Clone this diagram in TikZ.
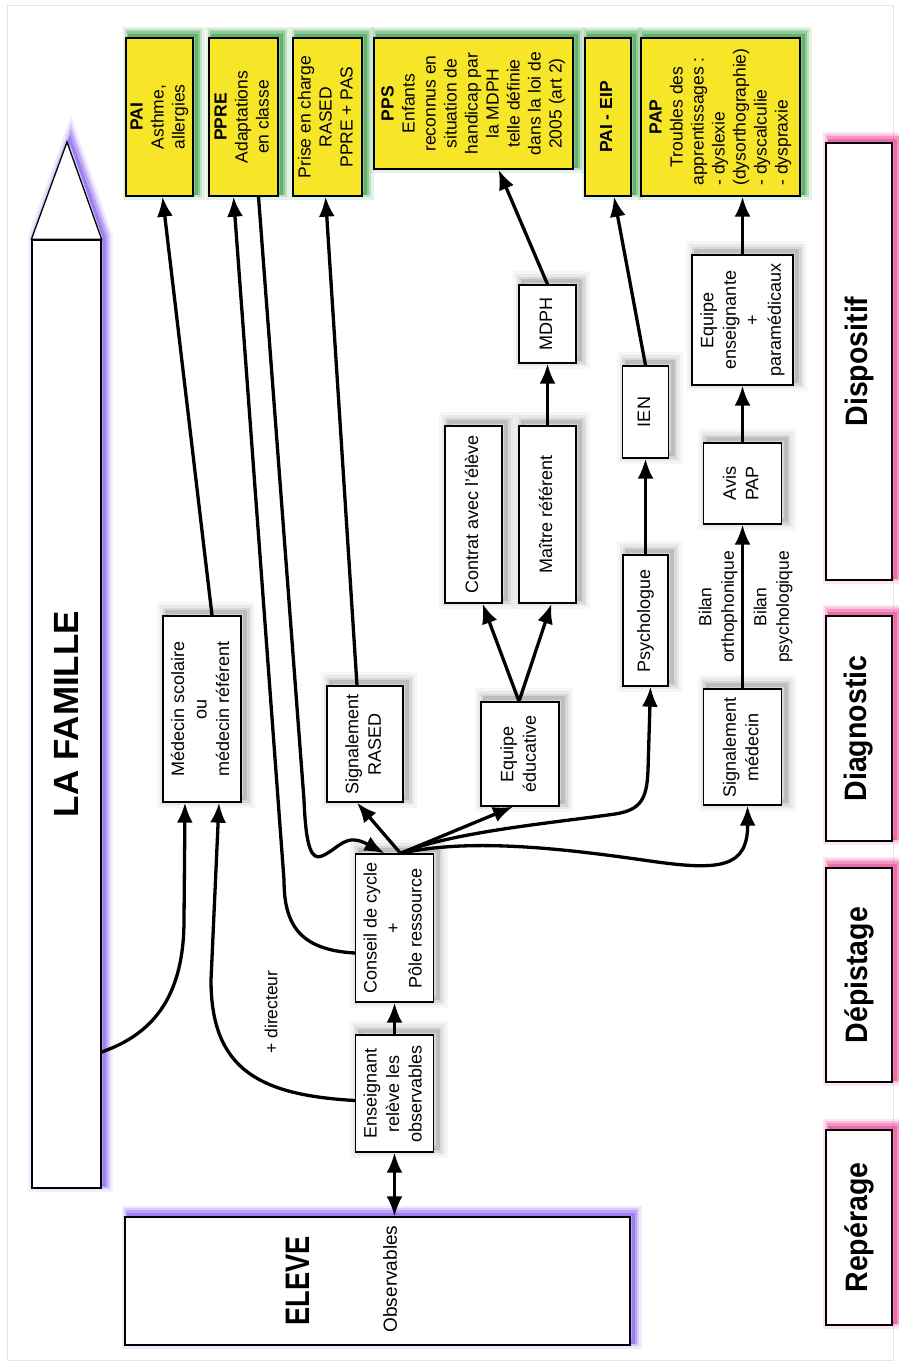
\documentclass[tikz,border=0pt]{standalone}
\usepackage{fontspec}
\setmainfont{Liberation Sans}
\newfontfamily\narrowfont[FakeStretch=0.8]{Liberation Sans}
\newfontfamily\stagefont[FakeStretch=0.92]{Liberation Sans}
\usepackage{graphicx}
\usetikzlibrary{arrows.meta}
\definecolor{dispyellow}{RGB}{247,229,40}
\definecolor{dispgreen}{RGB}{40,150,50}
\definecolor{famviolet}{RGB}{120,80,235}
\definecolor{stagepink}{RGB}{235,50,140}
\newcommand{\vtext}[1]{\rotatebox{90}{\begin{tabular}{@{}c@{}}#1\end{tabular}}}
\tikzset{
  shade/.style={
    preaction={draw=black, draw opacity=.035, line width=20pt, transform canvas={shift={(4pt,4pt)}}},
    preaction={draw=black, draw opacity=.05, line width=14pt, transform canvas={shift={(4pt,4pt)}}},
    preaction={draw=black, draw opacity=.08, line width=9pt, transform canvas={shift={(4pt,4pt)}}},
    preaction={draw=black, draw opacity=.12, line width=4pt, transform canvas={shift={(4pt,4pt)}}}},
  glow/.style={
    preaction={draw=#1, draw opacity=.12, line width=15pt, transform canvas={shift={(4pt,4pt)}}},
    preaction={draw=#1, draw opacity=.2, line width=10pt, transform canvas={shift={(4pt,4pt)}}},
    preaction={draw=#1, draw opacity=.3, line width=6pt, transform canvas={shift={(4pt,4pt)}}},
    preaction={draw=#1, draw opacity=.45, line width=3pt, transform canvas={shift={(3pt,3pt)}}}},
  plain/.style={draw=black, line width=1.3pt, fill=white, inner sep=0pt, font=\fontsize{18}{22.5}\selectfont},
  box/.style={plain, shade},
  disp/.style={plain, fill=dispyellow, glow=dispgreen, font=\fontsize{17.5}{21}\selectfont},
  stage/.style={plain, glow=stagepink, minimum width=66pt, font=\stagefont\bfseries\fontsize{31}{36}\selectfont},
  txt/.style={font=\fontsize{17.5}{22.5}\selectfont},
  link/.style={line width=3.3pt, -{Latex[length=20pt,width=16pt]}},
  twoway/.style={line width=3.3pt, {Latex[length=20pt,width=16pt]}-{Latex[length=20pt,width=16pt]}}
}

\begin{document}
\begin{tikzpicture}[x=1pt, y=-1pt]
\useasboundingbox (0,0) rectangle (899,1365);
\draw[gray!20] (7,5) rectangle (893,1360);

% la famille
\path[glow=famviolet, fill=white] (32,1188) -- (32,240) -- (67,142) -- (101,240) -- (101,1188) -- cycle;
\node[plain, minimum width=69pt, minimum height=948pt] (famille) at (66.5,714) {\rotatebox{90}{\bfseries\fontsize{35}{40}\selectfont LA FAMILLE}};
\draw[line width=1.3pt, fill=white] (famille.north west) -- (67,142) -- (famille.north east) -- cycle;

% eleve
\node[plain, glow=famviolet, minimum width=505pt, minimum height=128pt] (eleve) at (377.5,1281) {};
\node[rotate=90, font=\narrowfont\bfseries\fontsize{34}{40}\selectfont] (eleveT) at (298,1281) {ELEVE};
\node[rotate=90, font=\fontsize{19}{22}\selectfont] (eleveO) at (390,1279) {Observables};

% dispositifs
\node[disp, minimum width=67pt, minimum height=158pt] (pai) at (159.5,117) {\vtext{\textbf{PAI}\\Asthme,\\allergies}};
\node[disp, minimum width=69pt, minimum height=158pt] (ppre) at (243.5,117) {\vtext{\textbf{PPRE}\\Adaptations\\en classe}};
\node[disp, minimum width=69pt, minimum height=158pt] (pec) at (327.5,117) {\vtext{Prise en charge\\RASED\\PPRE + PAS}};
\node[disp, minimum width=199pt, minimum height=131pt] (pps) at (473.5,103.5) {\vtext{\textbf{PPS}\\Enfants\\reconnus en\\situation de\\handicap par\\la MDPH\\telle définie\\dans la loi de\\2005 (art 2)}};
\node[disp, minimum width=46pt, minimum height=158pt] (eip) at (608,117) {\vtext{\textbf{PAI - EIP}}};
\node[disp, minimum width=159pt, minimum height=158pt] (pap) at (720.5,117) {\rotatebox{90}{\begin{tabular}{@{}l@{}}\multicolumn{1}{@{}c@{}}{\textbf{PAP}}\\\multicolumn{1}{@{}c@{}}{Troubles des}\\apprentissages :\\- dyslexie\\(dysorthographie)\\- dyscalculie\\- dyspraxie\end{tabular}}};

% intervenants
\node[box, minimum width=78pt, minimum height=186pt] (med) at (202,709) {\vtext{Médecin scolaire\\ou\\médecin référent}};
\node[box, minimum width=76pt, minimum height=116pt] (rased) at (365,744) {\vtext{Signalement\\RASED}};
\node[box, minimum width=78pt, minimum height=148pt] (conseil) at (394.5,928) {\vtext{Conseil de cycle\\+\\Pôle ressource}};
\node[box, minimum width=78pt, minimum height=117pt] (ens) at (394.5,1093.5) {\vtext{Enseignant\\relève les\\observables}};
\node[box, minimum width=78pt, minimum height=104pt] (equipe) at (520,754) {\vtext{Equipe\\éducative}};
\node[box, minimum width=57pt, minimum height=177pt] (contrat) at (473.5,514.5) {\vtext{Contrat avec l'élève}};
\node[box, minimum width=57pt, minimum height=177pt] (maitre) at (547.5,514.5) {\vtext{Maître référent}};
\node[box, minimum width=57pt, minimum height=78pt] (mdph) at (547.5,324) {\vtext{MDPH}};
\node[box, minimum width=45pt, minimum height=131pt] (psy) at (645.5,620.5) {\vtext{Psychologue}};
\node[box, minimum width=46pt, minimum height=92pt] (ien) at (645.5,412) {\vtext{IEN}};
\node[box, minimum width=78pt, minimum height=116pt] (sigmed) at (742.5,747) {\vtext{Signalement\\médecin}};
\node[box, minimum width=78pt, minimum height=81pt] (avis) at (742.5,483.5) {\vtext{Avis\\PAP}};
\node[box, minimum width=101pt, minimum height=130pt] (eqpara) at (742.5,320) {\vtext{Equipe\\enseignante\\+\\paramédicaux}};

% etapes
\node[stage, minimum height=437pt] (dispositif) at (859,361.5) {\rotatebox{90}{Dispositif}};
\node[stage, minimum height=225pt] (diagnostic) at (859,728.5) {\rotatebox{90}{Diagnostic}};
\node[stage, minimum height=214pt] (depistage) at (859,975) {\rotatebox{90}{Dépistage}};
\node[stage, minimum height=195pt] (reperage) at (859,1227.5) {\rotatebox{90}{Repérage}};

% liens
\draw[twoway] (ens.south) -- (ens.south |- eleve.north);
\draw[link] (ens.north) -- (conseil.south);
\draw[link] ([yshift=-338pt]famille.east) .. controls (150,1035) and (184,1000) .. (184,920) -- ([xshift=-17pt]med.south);
\draw[link] ([yshift=-7pt]ens.west) .. controls (260,1095) and (211,1070) .. (211,980) -- ([xshift=17pt]med.south);
\node[txt, rotate=90] (directeur) at (271,1012) {+ directeur};
\draw[link] ([xshift=10pt]med.north) -- ([xshift=3pt]pai.south);
\draw[link] ([yshift=-25pt]conseil.west) .. controls (300,950) and (284,925) .. (284,880) -- ([xshift=-10pt]ppre.south);
\draw[link] ([xshift=15pt]ppre.south) -- (304,800) .. controls (306,850) and (312,860) .. (322,856) .. controls (340,848) and (345,832) .. ([xshift=-10pt]conseil.north);
\draw[link] ([xshift=6pt]conseil.north) -- ([xshift=-8pt]rased.south);
\draw[link] ([xshift=6pt]conseil.north) -- ([xshift=-7pt]equipe.south);
\draw[link] ([xshift=6pt]conseil.north) .. controls (450,832) and (560,822) .. (615,814) .. controls (640,810) and (647,800) .. (648,770) -- ([xshift=5pt]psy.south);
\draw[link] ([xshift=6pt]conseil.north) .. controls (470,838) and (560,848) .. (650,861) .. controls (720,871) and (748,868) .. ([xshift=5pt]sigmed.south);
\draw[link] ([xshift=-8pt]rased.north) -- ([xshift=-2pt]pec.south);
\draw[link] ([xshift=-1pt]equipe.north) -- ([xshift=9pt]contrat.south);
\draw[link] ([xshift=-1pt]equipe.north) -- ([xshift=4pt]maitre.south);
\draw[link] (maitre.north) -- (mdph.south);
\draw[link] (mdph.north) -- ([xshift=25pt]pps.south);
\draw[link] (psy.north) -- (ien.south);
\draw[link] (ien.north) -- ([xshift=6pt]eip.south);
\draw[link] (sigmed.north) -- (avis.south);
\node[txt] (bilanO) at (718,607) {\vtext{Bilan\\orthophonique}};
\node[txt] (bilanP) at (773,607) {\vtext{Bilan\\psychologique}};
\draw[link] (avis.north) -- (eqpara.south);
\draw[link] (eqpara.north) -- ([xshift=22pt]pap.south);
\end{tikzpicture}
\end{document}
